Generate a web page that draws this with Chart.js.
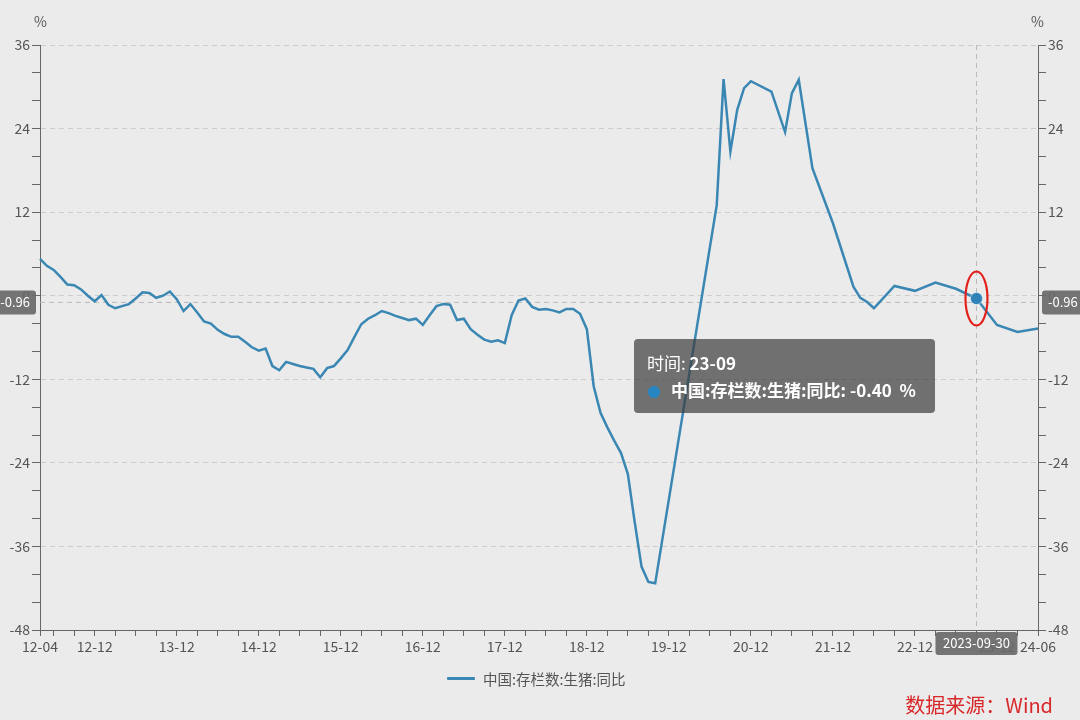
<!DOCTYPE html>
<html>
<head>
<meta charset="utf-8">
<title>中国:存栏数:生猪:同比</title>
<script src="https://cdn.jsdelivr.net/npm/chart.js@4.4.1/dist/chart.umd.min.js"></script>
<style>
  html, body { margin: 0; padding: 0; background: #ebebeb; }
  body { width: 1080px; height: 720px; position: relative; overflow: hidden;
         font-family: "Noto Sans CJK SC", "Noto Sans", sans-serif; }
  #wrap { position: absolute; left: 0; top: 0; width: 1080px; height: 720px; }
  .unit { position: absolute; top: 11px; font-size: 14px; color: #555; }
  #legend { position: absolute; left: 447px; top: 668px; font-size: 14.5px; color: #555;
            display: flex; align-items: center; }
  #legend .swatch { display: inline-block; width: 28px; height: 3px; background: #3a87b3;
                    margin-right: 8px; border-radius: 1px; }
  #source { position: absolute; right: 27px; top: 690px; font-size: 20px; color: #d8282a; }
  #tip { position: absolute; left: 634px; top: 339px; width: 301px; height: 74px; box-sizing: border-box;
         padding: 10px 13px; background: rgba(60,60,60,0.7); border-radius: 4px; color: #fff;
         font-size: 17px; line-height: 27px; display: none; white-space: nowrap; }
  #tip b { font-weight: bold; }
  #tip .dot { display: inline-block; width: 12px; height: 12px; border-radius: 50%; background: #2586c2;
              margin: 0 11px 0 1px; vertical-align: -1px; }
</style>
</head>
<body>
<div id="wrap"><canvas id="pigChart" width="1080" height="720"></canvas></div>
<div class="unit" style="left:34px">%</div>
<div class="unit" style="left:1031px">%</div>
<div id="legend"><span class="swatch"></span>中国:存栏数:生猪:同比</div>
<div id="source">数据来源：Wind</div>
<div id="tip"></div>
<script>
console.log("pig inventory chart loaded");

const seriesName = "中国:存栏数:生猪:同比";

// months 12-04 ... 24-06
const months = [];
let yr = 2012, mo = 4;
while (yr < 2024 || (yr === 2024 && mo <= 6)) {
  months.push(String(yr % 100).padStart(2, "0") + "-" + String(mo).padStart(2, "0"));
  mo++;
  if (mo > 12) { mo = 1; yr++; }
}

// YoY %, one row per year (null = no observation, line is joined across)
const yoy = [
  5.3, 4.3, 3.7, 2.7, 1.6, 1.5, 0.9, 0.0, -0.8,                                   // 2012 Apr-Dec
  0.1, -1.3, -1.8, -1.5, -1.2, -0.4, 0.5, 0.4, -0.3, 0.0, 0.6, -0.5,             // 2013
  -2.2, -1.2, -2.4, -3.7, -4.0, -4.9, -5.5, -5.9, -5.9, -6.6, -7.4, -7.9,        // 2014
  -7.6, -10.1, -10.7, -9.5, -9.8, -10.1, -10.3, -10.5, -11.7, -10.4, -10.1, -9.0, // 2015
  -7.8, -5.9, -4.1, -3.3, -2.8, -2.2, -2.5, -2.9, -3.2, -3.5, -3.3, -4.2,        // 2016
  -2.8, -1.5, -1.2, -1.3, -3.5, -3.3, -4.8, -5.6, -6.3, -6.6, -6.4, -6.8,        // 2017
  -2.8, -0.7, -0.4, -1.6, -2.0, -1.9, -2.1, -2.4, -1.9, -1.9, -2.6, -4.8,        // 2018
  -13.0, -16.8, -18.9, -20.8, -22.6, -25.6, -32.5, -38.9, -41.1, -41.3, null, null, // 2019
  null, null, null, null, null, null, 13.0, 31.1, 20.7, 26.7, 29.8, 30.8,        // 2020
  null, null, 29.3, null, 23.5, 29.1, 31.0, null, 18.3, null, null, 10.4,        // 2021
  null, null, 1.3, -0.3, -0.9, -1.8, null, null, 1.4, null, null, 0.7,           // 2022
  null, null, 1.9, null, null, 1.0, null, null, -0.4, null, null, -4.2,          // 2023
  null, null, -5.2, null, null, -4.7                                             // 2024 Jan-Jun
];

const yLabels = [-48, -36, -24, -12, 0, 12, 24, 36];
const markMonth = "23-09";
const markDate = "2023-09-30";
const cursorValue = -0.96;
const markIndex = months.indexOf(markMonth);

const lineColor = "#3a87b3";
const axisColor = "#666";

Chart.defaults.font.family = '"Noto Sans CJK SC", "Noto Sans", sans-serif';
Chart.defaults.font.size = 14;
Chart.defaults.color = "#555";

function showLabel(i) {
  const l = months[i];
  return i === 0 || i === months.length - 1 || l.endsWith("-12");
}
function hasTick(i) {
  const m = months[i].slice(3);
  return i === 0 || m === "03" || m === "06" || m === "09" || m === "12";
}

function tag(ctx, text, x, y, w, h, textX, align) {
  ctx.fillStyle = "rgba(105,105,105,0.92)";
  ctx.beginPath();
  ctx.roundRect(x, y, w, h, 3);
  ctx.fill();
  ctx.fillStyle = "#fff";
  ctx.font = '13px "Noto Sans CJK SC", "Noto Sans", sans-serif';
  ctx.textAlign = align;
  ctx.textBaseline = "middle";
  ctx.fillText(text, textX, y + h / 2);
}

const pointerPlugin = {
  id: "pointer",
  beforeDatasetsDraw(chart) {
    const { ctx, chartArea: a, scales } = chart;
    const px = scales.x.getPixelForValue(markIndex);
    const py = scales.y.getPixelForValue(cursorValue);
    ctx.save();
    ctx.strokeStyle = "#b8b8b8";
    ctx.lineWidth = 1;
    ctx.setLineDash([5, 4]);
    ctx.beginPath();
    ctx.moveTo(a.left, py);
    ctx.lineTo(a.right, py);
    ctx.moveTo(px, a.top);
    ctx.lineTo(px, a.bottom);
    ctx.stroke();
    ctx.restore();
  },
  afterDraw(chart) {
    const { ctx, chartArea: a, scales } = chart;
    const px = scales.x.getPixelForValue(markIndex);
    const py = scales.y.getPixelForValue(cursorValue);
    const vy = scales.y.getPixelForValue(yoy[markIndex]);
    const label = cursorValue.toFixed(2);
    ctx.save();
    tag(ctx, label, -8, py - 12, a.left - 4 + 8, 24, a.left - 10, "right");
    tag(ctx, label, a.right + 4, py - 12, 60, 24, a.right + 10, "left");
    tag(ctx, markDate, px - 41, a.bottom + 2, 82, 23, px, "center");
    // red ring around the highlighted point
    ctx.strokeStyle = "#e3211c";
    ctx.lineWidth = 2.2;
    ctx.beginPath();
    ctx.ellipse(px, vy, 11, 27, 0, 0, Math.PI * 2);
    ctx.stroke();
    ctx.restore();
  }
};

function showTip(context) {
  const tip = document.getElementById("tip");
  const t = context.tooltip;
  if (!t.dataPoints || !t.dataPoints.length) { tip.style.display = "none"; return; }
  const dp = t.dataPoints[0];
  tip.innerHTML =
    "<div>时间: <b>" + dp.label + "</b></div>" +
    '<div><span class="dot"></span><b>' + dp.dataset.label + ": " + dp.parsed.y.toFixed(2) + "&nbsp; %</b></div>";
  tip.style.display = "block";
}

const ctx = document.getElementById("pigChart");

const chart = new Chart(ctx, {
  type: "line",
  data: {
    labels: months,
    datasets: [
      {
        label: seriesName,
        data: yoy,
        borderColor: lineColor,
        borderWidth: 2.5,
        spanGaps: true,
        tension: 0,
        pointRadius: (c) => (c.dataIndex === markIndex ? 6 : 0),
        pointBackgroundColor: "#2f82b8",
        pointBorderColor: "rgba(255,255,255,0.45)",
        pointBorderWidth: 1,
        yAxisID: "y",
      },
    ],
  },
  options: {
    responsive: false,
    animation: false,
    events: [],
    layout: { padding: { top: 45, left: 0, right: 0, bottom: 0 } },
    plugins: {
      legend: { display: false },
      tooltip: { enabled: false, external: showTip },
    },
    scales: {
      x: {
        type: "category",
        position: "bottom",
        afterFit: (s) => { s.height = 90; },
        border: { color: axisColor, width: 1 },
        grid: {
          drawOnChartArea: false,
          drawTicks: true,
          tickLength: 6,
          tickColor: (c) => (hasTick(c.index) ? axisColor : "rgba(0,0,0,0)"),
        },
        ticks: {
          autoSkip: false,
          maxRotation: 0,
          minRotation: 0,
          padding: 2,
          color: "#555",
          callback: (v, i) => (showLabel(i) ? months[i] : ""),
        },
      },
      y: {
        type: "linear",
        position: "left",
        min: -48,
        max: 36,
        afterFit: (s) => { s.width = 40; },
        border: { color: axisColor, width: 1, dash: [5, 4] },
        grid: {
          color: (c) => (c.tick && yLabels.includes(c.tick.value) ? "#cdcdcd" : "rgba(0,0,0,0)"),
          tickColor: axisColor,
          tickLength: 8,
        },
        ticks: {
          stepSize: 4,
          padding: 2,
          color: "#555",
          callback: (v) => (yLabels.includes(v) ? v : ""),
        },
      },
      y2: {
        type: "linear",
        position: "right",
        min: -48,
        max: 36,
        afterFit: (s) => { s.width = 42; },
        border: { color: axisColor, width: 1 },
        grid: { drawOnChartArea: false, tickColor: axisColor, tickLength: 8 },
        ticks: {
          stepSize: 4,
          padding: 2,
          color: "#555",
          callback: (v) => (yLabels.includes(v) ? v : ""),
        },
      },
    },
  },
  plugins: [pointerPlugin],
});

chart.tooltip.setActiveElements(
  [{ datasetIndex: 0, index: markIndex }],
  { x: chart.scales.x.getPixelForValue(markIndex), y: chart.scales.y.getPixelForValue(cursorValue) }
);
</script>
</body>
</html>
